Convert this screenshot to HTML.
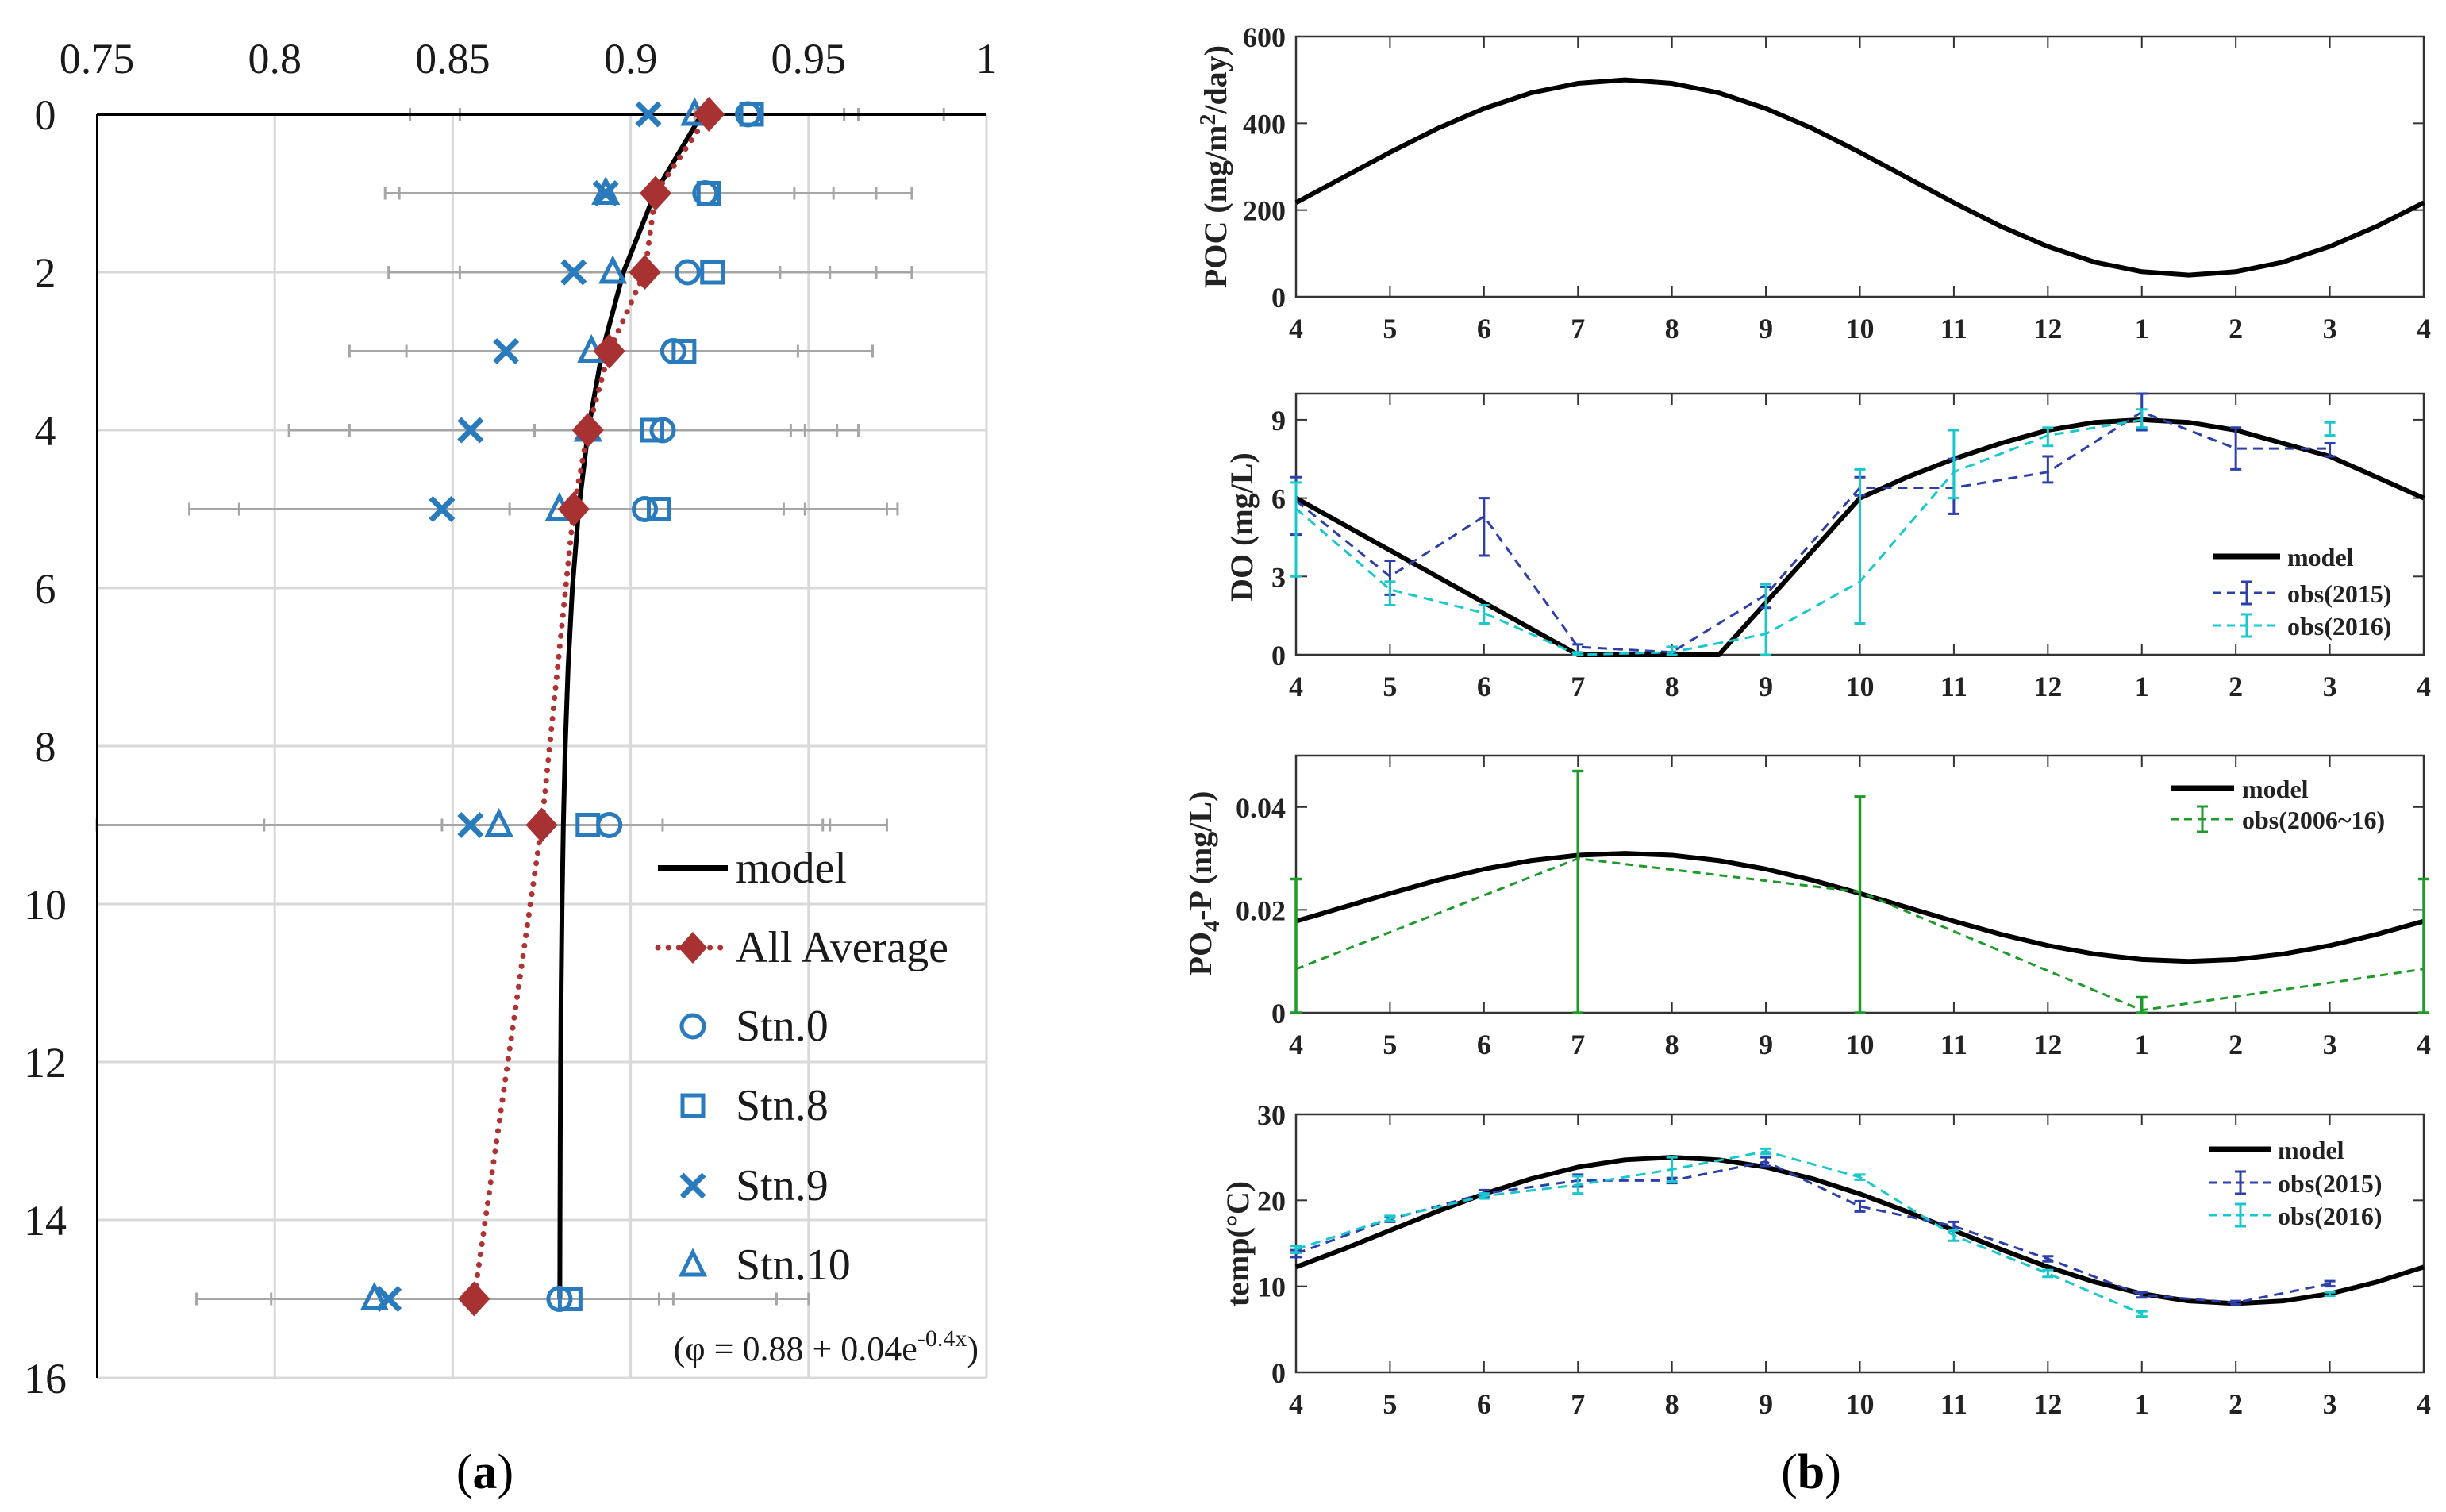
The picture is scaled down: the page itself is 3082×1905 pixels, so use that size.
<!DOCTYPE html>
<html><head><meta charset="utf-8">
<style>
html,body{margin:0;padding:0;background:#fff;}
svg{display:block;}
text{font-family:"Liberation Serif",serif;}
</style></head>
<body>
<svg id="fig" xmlns="http://www.w3.org/2000/svg" width="3082" height="1905" viewBox="0 0 3082 1905">
<rect x="0" y="0" width="3082" height="1905" fill="#fff"/>
<g id="chartA"></g>
<g id="chartB"></g>
<text x="611" y="1875" font-size="62" text-anchor="middle">(<tspan font-weight="bold">a</tspan>)</text>
<text x="2282" y="1875" font-size="62" text-anchor="middle">(<tspan font-weight="bold">b</tspan>)</text>
</svg>
<script>
// ---------- Panel (a) data ----------
const depths = [0, 1, 2, 3, 4, 5, 9, 15];
const stn0 = [0.933, 0.921, 0.916, 0.912, 0.909, 0.904, 0.894, 0.880];
const stn8 = [0.934, 0.922, 0.923, 0.915, 0.906, 0.908, 0.888, 0.883];
const stn9 = [0.905, 0.893, 0.884, 0.865, 0.855, 0.847, 0.855, 0.832];
const stn10 = [0.918, 0.893, 0.895, 0.889, 0.888, 0.880, 0.863, 0.828];
const allAvg = [0.922, 0.907, 0.904, 0.894, 0.888, 0.884, 0.875, 0.856];
const errCaps = [
  [0.838, 0.852, 0.918, 0.960, 0.964, 0.988],
  [0.831, 0.835, 0.946, 0.957, 0.969, 0.979],
  [0.832, 0.852, 0.942, 0.956, 0.969, 0.979],
  [0.821, 0.837, 0.947, 0.968],
  [0.804, 0.821, 0.873, 0.945, 0.949, 0.958, 0.964],
  [0.776, 0.790, 0.866, 0.943, 0.949, 0.972, 0.975],
  [0.750, 0.797, 0.847, 0.909, 0.954, 0.956, 0.972],
  [0.778, 0.799, 0.853, 0.908, 0.912, 0.941, 0.950]
];
const modelParams = [0.88, 0.04, -0.4];
const modelDepths = [0,1,2,3,4,5,6,7,8,9,10,11,12,13,14,15];
const xTicksA = [0.75, 0.8, 0.85, 0.9, 0.95, 1];
const xTickLabelsA = ["0.75", "0.8", "0.85", "0.9", "0.95", "1"];
const yTicksA = [0, 2, 4, 6, 8, 10, 12, 14, 16];

// ---------- Panel (b) data ----------
const monthLabels = ["4","5","6","7","8","9","10","11","12","1","2","3","4"];
const modelT = [0,0.5,1,1.5,2,2.5,3,3.5,4,4.5,5,5.5,6,6.5,7,7.5,8,8.5,9,9.5,10,10.5,11,11.5,12];
const pocModel = [217,275,333,387.5,434,470,492,500,492,470,434,387.5,333,275,217,162.5,116,80,58,50,58,80,116,162.5,217];
const doModelT = [0,1,2,3,4,4.5,5,6,6.5,7,7.5,8,8.5,9,9.5,10,10.5,11,11.5,12];
const doModel = [6,4,2,0,0,0,2,6,6.8,7.5,8.1,8.6,8.9,9.0,8.9,8.6,8.1,7.6,6.8,6];
const do2015 = [5.9,3.0,5.3,0.3,0.1,2.3,6.4,6.4,7.0,9.3,7.9,7.9];
const do2015Lo = [4.6,2.3,3.8,0.0,0.0,1.8,6.1,5.4,6.6,8.6,7.1,7.6];
const do2015Hi = [6.8,3.6,6.0,0.4,0.3,2.6,6.8,7.5,7.6,10.0,8.7,8.1];
const do2016 = [5.6,2.5,1.6,0.0,0.1,0.8,2.8,7.0,8.4,9.0,null,8.6];
const do2016Lo = [3.0,1.9,1.2,0.0,0.0,0.0,1.2,6.0,8.0,8.7,null,8.4];
const do2016Hi = [6.6,2.8,1.9,0.1,0.3,2.7,7.1,8.6,8.7,9.4,null,8.9];
const po4Model = [0.0178,0.0205,0.0232,0.02575,0.02793,0.02959,0.03064,0.031,0.03064,0.02959,0.02793,0.02575,0.0232,0.0205,0.0178,0.01525,0.01307,0.01141,0.01036,0.010,0.01036,0.01141,0.01307,0.01525,0.0178];
const po4ObsT = [0,3,6,9,12];
const po4Obs = [0.0085,0.030,0.0235,0.0005,0.0085];
const po4Lo = [0,0,0,0,0];
const po4Hi = [0.026,0.047,0.042,0.003,0.026];
const tempModel = [12.25,14.3,16.5,18.7,20.75,22.5,23.86,24.71,25,24.71,23.86,22.5,20.75,18.7,16.5,14.3,12.25,10.5,9.14,8.29,8,8.29,9.14,10.5,12.25];
const temp2015 = [13.8,17.8,20.8,22.3,22.3,24.5,19.3,17.0,13.2,9.0,8.1,10.3];
const temp2015Err = [0.4,0.3,0.4,0.7,0.3,0.5,0.6,0.5,0.3,0.3,0.2,0.3];
const temp2016 = [14.3,17.9,20.5,21.8,23.6,25.7,22.7,15.9,11.5,6.8,null,9.1];
const temp2016Err = [0.4,0.3,0.3,1.0,1.4,0.3,0.3,0.6,0.4,0.3,null,0.2];

const NS = "http://www.w3.org/2000/svg";
function mk(tag, attrs, name, parent, inter) {
  const el = document.createElementNS(NS, tag);
  for (const k in attrs) el.setAttribute(k, attrs[k]);
  
  
  parent.appendChild(el);
  return el;
}
const SERIF = '"Liberation Serif", serif';

// ================= Panel (a) =================
(function(){
  const g = document.getElementById('chartA');
  const L = 122, R = 1243, T = 144, B = 1736;
  const xL = v => L + (v - 0.75) / 0.25 * (R - L);
  const yL = d => T + d / 16 * (B - T);
  xTicksA.forEach((v, i) => {
    if (i > 0) mk('line', {x1: xL(v), x2: xL(v), y1: T, y2: B, stroke: '#d9d9d9', 'stroke-width': 3}, 'x-gridline', g);
    const t = mk('text', {x: xL(v), y: 92, 'font-family': SERIF, 'font-size': 54, 'text-anchor': 'middle', fill: '#1a1a1a'}, 'x-tick-label', g);
    t.textContent = xTickLabelsA[i];
  });
  yTicksA.forEach(d => {
    if (d > 0) mk('line', {x1: L, x2: R, y1: yL(d), y2: yL(d), stroke: '#d9d9d9', 'stroke-width': 3}, 'y-gridline', g);
    const t = mk('text', {x: 57, y: yL(d) + 19, 'font-family': SERIF, 'font-size': 54, 'text-anchor': 'middle', fill: '#1a1a1a'}, 'y-tick-label', g);
    t.textContent = String(d);
  });
  mk('line', {x1: R, x2: R, y1: T, y2: B, stroke: '#d9d9d9', 'stroke-width': 3}, 'plot-border-right', g);
  errCaps.forEach((caps, i) => {
    const y = yL(depths[i]);
    const lo = Math.min.apply(null, caps), hi = Math.max.apply(null, caps);
    mk('line', {x1: xL(lo), x2: xL(hi), y1: y, y2: y, stroke: '#a6a6a6', 'stroke-width': 3}, 'error-bar', g);
    caps.forEach(c => {
      mk('line', {x1: xL(c), x2: xL(c), y1: y - 8, y2: y + 8, stroke: '#a6a6a6', 'stroke-width': 3}, 'error-bar-cap', g);
    });
  });
  mk('line', {x1: L, x2: L, y1: T, y2: B, stroke: '#000', 'stroke-width': 2}, 'y-axis-line', g);
  mk('line', {x1: L, x2: R, y1: T, y2: T, stroke: '#000', 'stroke-width': 4}, 'x-axis-line', g);
  const mp = modelDepths.map(d => xL(modelParams[0] + modelParams[1] * Math.exp(modelParams[2] * d)) + ',' + yL(d)).join(' ');
  mk('polyline', {points: mp, fill: 'none', stroke: '#000', 'stroke-width': 6, 'stroke-linejoin': 'round'}, 'model-line', g);
  const ap = depths.map((d, i) => xL(allAvg[i]) + ',' + yL(d)).join(' ');
  mk('polyline', {points: ap, fill: 'none', stroke: '#b03333', 'stroke-width': 7, 'stroke-dasharray': '0.1 13', 'stroke-linecap': 'round'}, 'all-average-line', g);
  const BLUE = '#2a7bbd';
  function circle(x, y, name) { mk('circle', {cx: x, cy: y, r: 14, fill: 'none', stroke: BLUE, 'stroke-width': 5}, name, g); }
  function square(x, y, name) { mk('rect', {x: x - 13, y: y - 13, width: 26, height: 26, fill: 'none', stroke: BLUE, 'stroke-width': 5}, name, g); }
  function cross(x, y, name) { mk('path', {d: `M${x-14},${y-14}L${x+14},${y+14}M${x+14},${y-14}L${x-14},${y+14}`, fill: 'none', stroke: BLUE, 'stroke-width': 7}, name, g); }
  function tri(x, y, name) { mk('path', {d: `M${x},${y-16}L${x+14},${y+12}L${x-14},${y+12}Z`, fill: 'none', stroke: BLUE, 'stroke-width': 5, 'stroke-linejoin': 'miter'}, name, g); }
  function diamond(x, y, name) { mk('path', {d: `M${x},${y-22}L${x+20},${y}L${x},${y+22}L${x-20},${y}Z`, fill: '#a83232'}, name, g); }
  depths.forEach((d, i) => {
    const y = yL(d);
    cross(xL(stn9[i]), y, 'stn9-point');
    tri(xL(stn10[i]), y, 'stn10-point');
    square(xL(stn8[i]), y, 'stn8-point');
    circle(xL(stn0[i]), y, 'stn0-point');
    diamond(xL(allAvg[i]), y, 'all-average-point');
  });
  const lg = mk('g', {}, 'legend', g);
  const lx = 873, tx = 927, ys = [1094, 1194, 1293, 1393, 1494, 1594];
  const labels = ['model', 'All Average', 'Stn.0', 'Stn.8', 'Stn.9', 'Stn.10'];
  mk('line', {x1: 829, x2: 917, y1: ys[0], y2: ys[0], stroke: '#000', 'stroke-width': 8}, 'legend-model-swatch', lg);
  mk('line', {x1: 829, x2: 917, y1: ys[1], y2: ys[1], stroke: '#b03333', 'stroke-width': 7, 'stroke-dasharray': '0.1 13', 'stroke-linecap': 'round'}, 'legend-average-swatch', lg);
  mk('path', {d: `M${lx},${ys[1]-20}L${lx+18},${ys[1]}L${lx},${ys[1]+20}L${lx-18},${ys[1]}Z`, fill: '#a83232'}, 'legend-average-marker', lg);
  mk('circle', {cx: lx, cy: ys[2], r: 14, fill: 'none', stroke: BLUE, 'stroke-width': 5}, 'legend-stn0-marker', lg);
  mk('rect', {x: lx - 13, y: ys[3] - 13, width: 26, height: 26, fill: 'none', stroke: BLUE, 'stroke-width': 5}, 'legend-stn8-marker', lg);
  mk('path', {d: `M${lx-14},${ys[4]-14}L${lx+14},${ys[4]+14}M${lx+14},${ys[4]-14}L${lx-14},${ys[4]+14}`, stroke: BLUE, 'stroke-width': 7}, 'legend-stn9-marker', lg);
  mk('path', {d: `M${lx},${ys[5]-16}L${lx+14},${ys[5]+12}L${lx-14},${ys[5]+12}Z`, fill: 'none', stroke: BLUE, 'stroke-width': 5}, 'legend-stn10-marker', lg);
  labels.forEach((s, i) => {
    const t = mk('text', {x: tx, y: ys[i] + 18, 'font-family': SERIF, 'font-size': 56, fill: '#1a1a1a'}, 'legend-entry-label', lg);
    t.textContent = s;
  });
  const f = mk('text', {x: 1233, y: 1714, 'font-family': SERIF, 'font-size': 44, 'text-anchor': 'end', fill: '#1a1a1a'}, 'model-equation', g);
  f.innerHTML = '(φ = 0.88 + 0.04e<tspan font-size="30" dy="-18">-0.4x</tspan><tspan dy="18">)</tspan>';
})();

// ================= Panel (b) =================
(function(){
  const g = document.getElementById('chartB');
  const L = 1633, R = 3054;
  const px = t => L + t / 12 * (R - L);
  function panel(cfg) {
    const pg = mk('g', {}, cfg.name, g);
    const py = v => cfg.B - (v - cfg.ymin) / (cfg.ymax - cfg.ymin) * (cfg.B - cfg.T);
    mk('rect', {x: L, y: cfg.T, width: R - L, height: cfg.B - cfg.T, fill: 'none', stroke: '#333', 'stroke-width': 2.5}, 'plot-frame', pg);
    monthLabels.forEach((m, i) => {
      const x = px(i);
      mk('line', {x1: x, x2: x, y1: cfg.B, y2: cfg.B - 14, stroke: '#333', 'stroke-width': 2}, 'x-tick', pg);
      mk('line', {x1: x, x2: x, y1: cfg.T, y2: cfg.T + 14, stroke: '#333', 'stroke-width': 2}, 'x-tick-top', pg);
      const t = mk('text', {x: x, y: cfg.B + 52, 'font-family': SERIF, 'font-size': 36, 'font-weight': 'bold', 'text-anchor': 'middle', fill: '#222'}, 'x-tick-label', pg);
      t.textContent = m;
    });
    cfg.yticks.forEach((v, i) => {
      const y = py(v);
      mk('line', {x1: L, x2: L + 14, y1: y, y2: y, stroke: '#333', 'stroke-width': 2}, 'y-tick', pg);
      mk('line', {x1: R, x2: R - 14, y1: y, y2: y, stroke: '#333', 'stroke-width': 2}, 'y-tick-right', pg);
      const t = mk('text', {x: 1620, y: y + 13, 'font-family': SERIF, 'font-size': 36, 'font-weight': 'bold', 'text-anchor': 'end', fill: '#222'}, 'y-tick-label', pg);
      t.textContent = cfg.ylabels[i];
    });
    const yt = mk('text', {x: 0, y: 0, transform: `translate(${cfg.lx},${cfg.ly}) rotate(-90)`, 'font-family': SERIF, 'font-size': 40, 'font-weight': 'bold', 'text-anchor': 'middle', fill: '#222'}, 'y-axis-title', pg);
    yt.innerHTML = cfg.title;
    return {pg, py};
  }
  function line(pg, xs, ys, py, style, name) {
    let segs = [], cur = [];
    xs.forEach((x, i) => {
      if (ys[i] === null) { if (cur.length) segs.push(cur); cur = []; }
      else cur.push(px(x) + ',' + py(ys[i]));
    });
    if (cur.length) segs.push(cur);
    segs.forEach(s => {
      const a = Object.assign({points: s.join(' '), fill: 'none'}, style);
      mk('polyline', a, name, pg);
    });
  }
  function errbars(pg, xs, lo, hi, py, color, w, name) {
    xs.forEach((x, i) => {
      if (lo[i] === null) return;
      const X = px(x);
      mk('path', {d: `M${X},${py(lo[i])}V${py(hi[i])}M${X-7},${py(lo[i])}H${X+7}M${X-7},${py(hi[i])}H${X+7}`, stroke: color, 'stroke-width': w, fill: 'none'}, name, pg);
    });
  }
  const idx12 = [0,1,2,3,4,5,6,7,8,9,10,11];
  const BLK = {stroke: '#000', 'stroke-width': 6, 'stroke-linejoin': 'round'};
  const DB = '#2d3fa8', CY = '#19c8cc', GR = '#1e9a2a';

  let p = panel({name: 'poc-panel', T: 46, B: 374, ymin: 0, ymax: 600, yticks: [0,200,400,600], ylabels: ['0','200','400','600'], lx: 1545, ly: 210, title: 'POC (mg/m<tspan font-size="28" dy="-14">2</tspan><tspan dy="14">/day)</tspan>'});
  line(p.pg, modelT, pocModel, p.py, BLK, 'poc-model-line');

  p = panel({name: 'do-panel', T: 496, B: 825, ymin: 0, ymax: 10, yticks: [0,3,6,9], ylabels: ['0','3','6','9'], lx: 1578, ly: 664, title: 'DO (mg/L)'});
  line(p.pg, doModelT, doModel, p.py, BLK, 'do-model-line');
  line(p.pg, idx12, do2015, p.py, {stroke: DB, 'stroke-width': 3, 'stroke-dasharray': '12 8'}, 'do-obs-2015-line');
  errbars(p.pg, idx12, do2015Lo, do2015Hi, p.py, DB, 3, 'do-obs-2015-errorbar');
  line(p.pg, idx12, do2016, p.py, {stroke: CY, 'stroke-width': 3, 'stroke-dasharray': '12 8'}, 'do-obs-2016-line');
  errbars(p.pg, idx12, do2016Lo, do2016Hi, p.py, CY, 3, 'do-obs-2016-errorbar');
  let lg = mk('g', {}, 'do-legend', p.pg);
  mk('line', {x1: 2789, x2: 2873, y1: 701, y2: 701, stroke: '#000', 'stroke-width': 7}, 'legend-model-swatch', lg);
  mk('line', {x1: 2789, x2: 2873, y1: 747, y2: 747, stroke: DB, 'stroke-width': 3, 'stroke-dasharray': '10 7'}, 'legend-2015-swatch', lg);
  mk('path', {d: 'M2831,733V761M2824,733H2838M2824,761H2838', stroke: DB, 'stroke-width': 3}, 'legend-2015-errorbar', lg);
  mk('line', {x1: 2789, x2: 2873, y1: 788, y2: 788, stroke: CY, 'stroke-width': 3, 'stroke-dasharray': '10 7'}, 'legend-2016-swatch', lg);
  mk('path', {d: 'M2831,774V802M2824,774H2838M2824,802H2838', stroke: CY, 'stroke-width': 3}, 'legend-2016-errorbar', lg);
  [['model',701],['obs(2015)',747],['obs(2016)',788]].forEach(a => {
    const t = mk('text', {x: 2882, y: a[1] + 12, 'font-family': SERIF, 'font-size': 32, 'font-weight': 'bold', fill: '#222'}, 'legend-entry-label', lg);
    t.textContent = a[0];
  });

  p = panel({name: 'po4-panel', T: 952, B: 1276, ymin: 0, ymax: 0.05, yticks: [0,0.02,0.04], ylabels: ['0','0.02','0.04'], lx: 1526, ly: 1113, title: 'PO<tspan font-size="28" dy="10">4</tspan><tspan dy="-10">-P (mg/L)</tspan>'});
  line(p.pg, modelT, po4Model, p.py, BLK, 'po4-model-line');
  line(p.pg, po4ObsT, po4Obs, p.py, {stroke: GR, 'stroke-width': 3, 'stroke-dasharray': '10 7'}, 'po4-obs-line');
  errbars(p.pg, po4ObsT, po4Lo, po4Hi, p.py, GR, 3.5, 'po4-obs-errorbar');
  lg = mk('g', {}, 'po4-legend', p.pg);
  mk('line', {x1: 2735, x2: 2815, y1: 993, y2: 993, stroke: '#000', 'stroke-width': 7}, 'legend-model-swatch', lg);
  mk('line', {x1: 2735, x2: 2815, y1: 1032, y2: 1032, stroke: GR, 'stroke-width': 3, 'stroke-dasharray': '10 7'}, 'legend-obs-swatch', lg);
  mk('path', {d: 'M2775,1016V1048M2768,1016H2782M2768,1048H2782', stroke: GR, 'stroke-width': 3}, 'legend-obs-errorbar', lg);
  [['model',993],['obs(2006~16)',1032]].forEach(a => {
    const t = mk('text', {x: 2825, y: a[1] + 12, 'font-family': SERIF, 'font-size': 32, 'font-weight': 'bold', fill: '#222'}, 'legend-entry-label', lg);
    t.textContent = a[0];
  });

  p = panel({name: 'temp-panel', T: 1404, B: 1729, ymin: 0, ymax: 30, yticks: [0,10,20,30], ylabels: ['0','10','20','30'], lx: 1573, ly: 1567, title: 'temp(°C)'});
  line(p.pg, modelT, tempModel, p.py, BLK, 'temp-model-line');
  line(p.pg, idx12, temp2015, p.py, {stroke: DB, 'stroke-width': 3, 'stroke-dasharray': '12 8'}, 'temp-obs-2015-line');
  errbars(p.pg, idx12, temp2015.map((v,i)=>v-temp2015Err[i]), temp2015.map((v,i)=>v+temp2015Err[i]), p.py, DB, 3, 'temp-obs-2015-errorbar');
  line(p.pg, idx12, temp2016, p.py, {stroke: CY, 'stroke-width': 3, 'stroke-dasharray': '12 8'}, 'temp-obs-2016-line');
  errbars(p.pg, idx12, temp2016.map((v,i)=>v===null?null:v-temp2016Err[i]), temp2016.map((v,i)=>v===null?null:v+temp2016Err[i]), p.py, CY, 3, 'temp-obs-2016-errorbar');
  lg = mk('g', {}, 'temp-legend', p.pg);
  mk('line', {x1: 2784, x2: 2862, y1: 1448, y2: 1448, stroke: '#000', 'stroke-width': 7}, 'legend-model-swatch', lg);
  mk('line', {x1: 2784, x2: 2862, y1: 1490, y2: 1490, stroke: DB, 'stroke-width': 3, 'stroke-dasharray': '10 7'}, 'legend-2015-swatch', lg);
  mk('path', {d: 'M2823,1476V1504M2816,1476H2830M2816,1504H2830', stroke: DB, 'stroke-width': 3}, 'legend-2015-errorbar', lg);
  mk('line', {x1: 2784, x2: 2862, y1: 1531, y2: 1531, stroke: CY, 'stroke-width': 3, 'stroke-dasharray': '10 7'}, 'legend-2016-swatch', lg);
  mk('path', {d: 'M2823,1517V1545M2816,1517H2830M2816,1545H2830', stroke: CY, 'stroke-width': 3}, 'legend-2016-errorbar', lg);
  [['model',1448],['obs(2015)',1490],['obs(2016)',1531]].forEach(a => {
    const t = mk('text', {x: 2870, y: a[1] + 12, 'font-family': SERIF, 'font-size': 32, 'font-weight': 'bold', fill: '#222'}, 'legend-entry-label', lg);
    t.textContent = a[0];
  });
})();
</script>
</body></html>
